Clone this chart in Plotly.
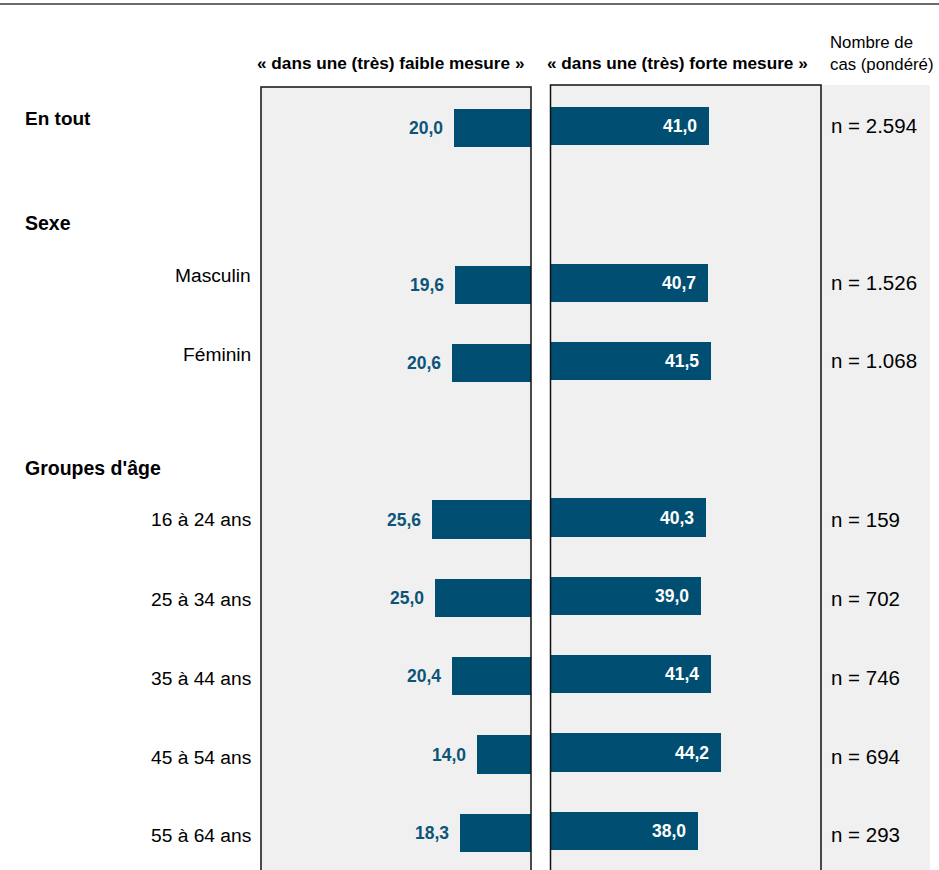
import plotly.graph_objects as go

# Survey results: share answering "to a (very) low extent" / "to a (very) high extent"
categories = ["En tout", "Masculin", "Féminin", "16 à 24 ans", "25 à 34 ans",
              "35 à 44 ans", "45 à 54 ans", "55 à 64 ans"]
low_share = [20.0, 19.6, 20.6, 25.6, 25.0, 20.4, 14.0, 18.3]
high_share = [41.0, 40.7, 41.5, 40.3, 39.0, 41.4, 44.2, 38.0]
n_cases = ["n = 2.594", "n = 1.526", "n = 1.068", "n = 159", "n = 702",
           "n = 746", "n = 694", "n = 293"]
group_headers = ["Sexe", "Groupes d'âge"]
col_low = "« dans une (très) faible mesure »"
col_high = "« dans une (très) forte mesure »"
col_n = "Nombre de<br>cas (pondéré)"

# row slots: headers occupy slots 1 and 4
row_slot = [0, 2, 3, 5, 6, 7, 8, 9]
header_slot = [1, 4]

W, H = 939, 870
BAR = "#004f72"
PANEL = "#f0f0f0"
FONT = "Liberation Sans, Arial, sans-serif"


def px(x):
    return x / W


def py(y):
    return 1 - y / H


fig = go.Figure()

fig.add_trace(go.Bar(
    x=low_share, y=row_slot, orientation="h", width=0.49,
    marker=dict(color=BAR, line=dict(width=0)),
    xaxis="x", yaxis="y", hoverinfo="skip", showlegend=False))
fig.add_trace(go.Bar(
    x=high_share, y=row_slot, orientation="h", width=0.49,
    marker=dict(color=BAR, line=dict(width=0)),
    xaxis="x2", yaxis="y2", hoverinfo="skip", showlegend=False))

top = 87
ydom = [0, py(top)]
shift = 2 / 78.3
axis_off = dict(showgrid=False, zeroline=False, showticklabels=False,
                ticks="", showline=False, fixedrange=True)

fig.update_layout(
    width=W, height=H,
    margin=dict(l=0, r=0, t=0, b=0),
    paper_bgcolor="white", plot_bgcolor="rgba(0,0,0,0)",
    bargap=0,
    xaxis=dict(domain=[px(261), px(531)], range=[70, 0], **axis_off),
    xaxis2=dict(domain=[px(551), px(821)], range=[0, 70], anchor="y2", **axis_off),
    yaxis=dict(domain=ydom, range=[9.5 - shift, -0.5 - shift], anchor="x", **axis_off),
    yaxis2=dict(domain=ydom, range=[9.5, -0.5], anchor="x2", **axis_off),
    font=dict(family=FONT, color="black"),
)

shapes = [
    # rule across the top
    dict(type="line", xref="paper", yref="paper", x0=0, x1=1, y0=py(4), y1=py(4),
         line=dict(color="#3a3a3a", width=1.5)),
    # panel backgrounds
    dict(type="rect", xref="paper", yref="paper", x0=px(261), x1=px(531),
         y0=py(H + 5), y1=py(87), fillcolor=PANEL, line=dict(width=0), layer="below"),
    dict(type="rect", xref="paper", yref="paper", x0=px(550), x1=px(930),
         y0=py(H + 5), y1=py(85), fillcolor=PANEL, line=dict(width=0), layer="below"),
    # panel frames
    dict(type="rect", xref="paper", yref="paper", x0=px(261), x1=px(531),
         y0=py(H + 5), y1=py(87), line=dict(color="#111111", width=1.5), layer="above"),
    dict(type="rect", xref="paper", yref="paper", x0=px(550.5), x1=px(821),
         y0=py(H + 5), y1=py(85), line=dict(color="#111111", width=1.5), layer="above"),
]

ann = []
# column headings
ann.append(dict(text=f"<b>{col_low}</b>", xref="paper", yref="paper",
                x=px(390.5), y=py(63), xanchor="center", yanchor="middle",
                showarrow=False, font=dict(size=17.2)))
ann.append(dict(text=f"<b>{col_high}</b>", xref="paper", yref="paper",
                x=px(677.5), y=py(63), xanchor="center", yanchor="middle",
                showarrow=False, font=dict(size=17.2)))
ann.append(dict(text=col_n, xref="paper", yref="paper",
                x=px(828), y=py(53), xanchor="left", yanchor="middle",
                showarrow=False, align="left", font=dict(size=16.8)))

# group headings
ann.append(dict(text="<b>En tout</b>", xref="paper", yref="y2", x=px(23), y=0,
                yshift=8, xanchor="left", yanchor="middle", showarrow=False,
                font=dict(size=19)))
header_shift = [-19, -29]
for label, slot, ys in zip(group_headers, header_slot, header_shift):
    ann.append(dict(text=f"<b>{label}</b>", xref="paper", yref="y2", x=px(23),
                    y=slot, yshift=ys, xanchor="left", yanchor="middle",
                    showarrow=False, font=dict(size=19.5)))

# vertical nudges of row text (pixels)
cat_shift = [0, 7, 7, -2, -4, -4, -5, -5]
n_shift = [1, 0, 1, -2, -3, -3, -4, -4]
for i, (label, slot) in enumerate(zip(categories, row_slot)):
    if i > 0:
        ann.append(dict(text=label, xref="paper", yref="y2", x=px(253), y=slot,
                        yshift=cat_shift[i], xanchor="right", yanchor="middle",
                        showarrow=False, font=dict(size=19.2)))
    # value labels
    ann.append(dict(text=f"<b>{low_share[i]:.1f}</b>".replace(".", ","),
                    xref="x", yref="y", x=low_share[i], y=slot, xshift=-9,
                    xanchor="right", yanchor="middle", showarrow=False,
                    font=dict(size=17.5, color="#0d5478")))
    ann.append(dict(text=f"<b>{high_share[i]:.1f}</b>".replace(".", ","),
                    xref="x2", yref="y2", x=high_share[i], y=slot, xshift=-10,
                    xanchor="right", yanchor="middle", showarrow=False,
                    font=dict(size=17.5, color="white")))
    # sample sizes
    ann.append(dict(text=n_cases[i], xref="paper", yref="y2", x=px(829), y=slot,
                    yshift=n_shift[i], xanchor="left", yanchor="middle",
                    showarrow=False, font=dict(size=20.5)))

fig.update_layout(shapes=shapes, annotations=ann)
fig.write_html("out.html")
